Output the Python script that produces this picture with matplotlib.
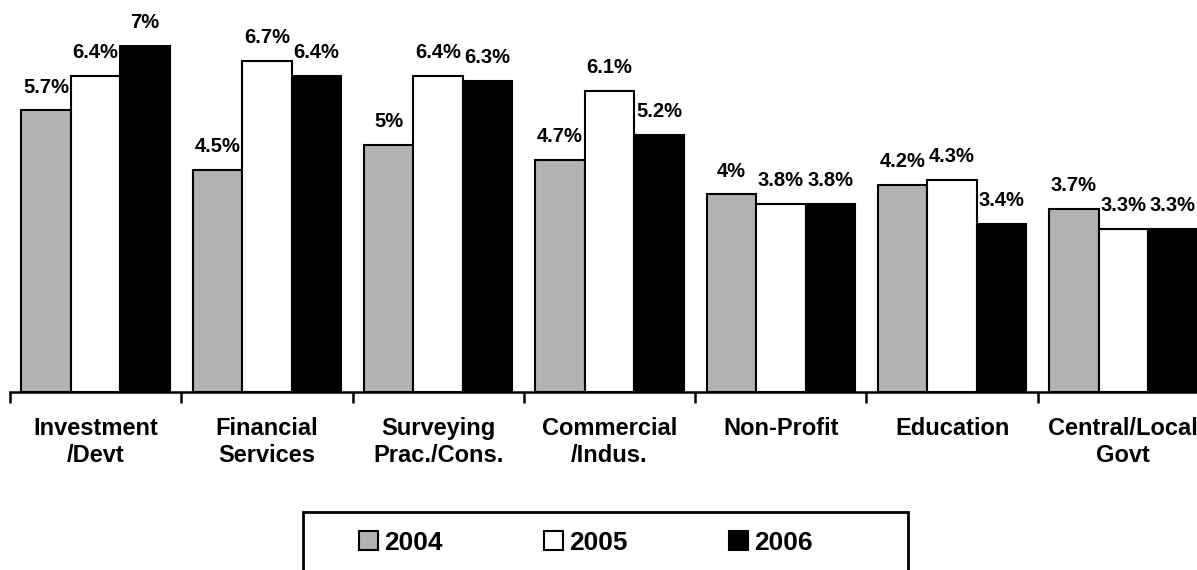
import matplotlib
matplotlib.use("Agg")
import matplotlib.pyplot as plt
from matplotlib.patches import Patch, Rectangle
import numpy as np

categories = ["Investment\n/Devt", "Financial\nServices", "Surveying\nPrac./Cons.",
              "Commercial\n/Indus.", "Non-Profit", "Education", "Central/Local\nGovt"]
years = ["2004", "2005", "2006"]
v2004 = [5.7, 4.5, 5.0, 4.7, 4.0, 4.2, 3.7]
v2005 = [6.4, 6.7, 6.4, 6.1, 3.8, 4.3, 3.3]
v2006 = [7.0, 6.4, 6.3, 5.2, 3.8, 3.4, 3.3]
series = [v2004, v2005, v2006]
colors = ["#b2b2b2", "#ffffff", "#000000"]

plt.rcParams['font.family'] = ['Liberation Sans', 'DejaVu Sans']
plt.rcParams['font.weight'] = 'bold'

W, H = 1197, 570
fig = plt.figure(figsize=(W / 100, H / 100), dpi=100)
ax = fig.add_axes([10 / W, 178 / H, 1199 / W, 392 / H])

x = np.arange(len(categories))
bw = 0.289
for k, (vals, c) in enumerate(zip(series, colors)):
    bars = ax.bar(x + (k - 1) * bw, vals, width=bw, color=c, edgecolor="black",
                  linewidth=1.5, label=years[k], zorder=2)
    for b, v in zip(bars, vals):
        ax.annotate(f"{v:g}%", (b.get_x() + b.get_width() / 2, v),
                    xytext=(0, 10), textcoords="offset points",
                    ha="center", va="bottom", fontsize=14.5, fontweight="bold")

ax.set_xlim(-0.5, len(categories) - 0.5)
ax.set_ylim(0, 7.935)
ax.set_yticks([])
for s in ["top", "right", "left"]:
    ax.spines[s].set_visible(False)
ax.spines["bottom"].set_linewidth(1.8)

ax.set_xticks(x)
ax.set_xticklabels(categories, fontsize=17, fontweight="bold", linespacing=1.2)
ax.tick_params(axis="x", which="major", length=0, pad=18)
ax.set_xticks(np.arange(len(categories) + 1) - 0.5, minor=True)
ax.tick_params(axis="x", which="minor", length=8, width=1.8, direction="out")

# legend box
fig.patches.append(Rectangle((303 / W, -5 / H), 605 / W, 63 / H, transform=fig.transFigure,
                             facecolor="white", edgecolor="black", linewidth=2, clip_on=False))
handles = [Patch(facecolor=c, edgecolor="black", linewidth=1.5) for c in colors]
fig.legend(handles, years, loc="center left", bbox_to_anchor=(359 / W, 1 - 543 / H),
           ncol=3, frameon=False, prop={"weight": "bold", "size": 19},
           handlelength=0.72, handleheight=0.72, handletextpad=0.23,
           columnspacing=3.85, borderpad=0, borderaxespad=0)

fig.savefig("out.png", dpi=100)
